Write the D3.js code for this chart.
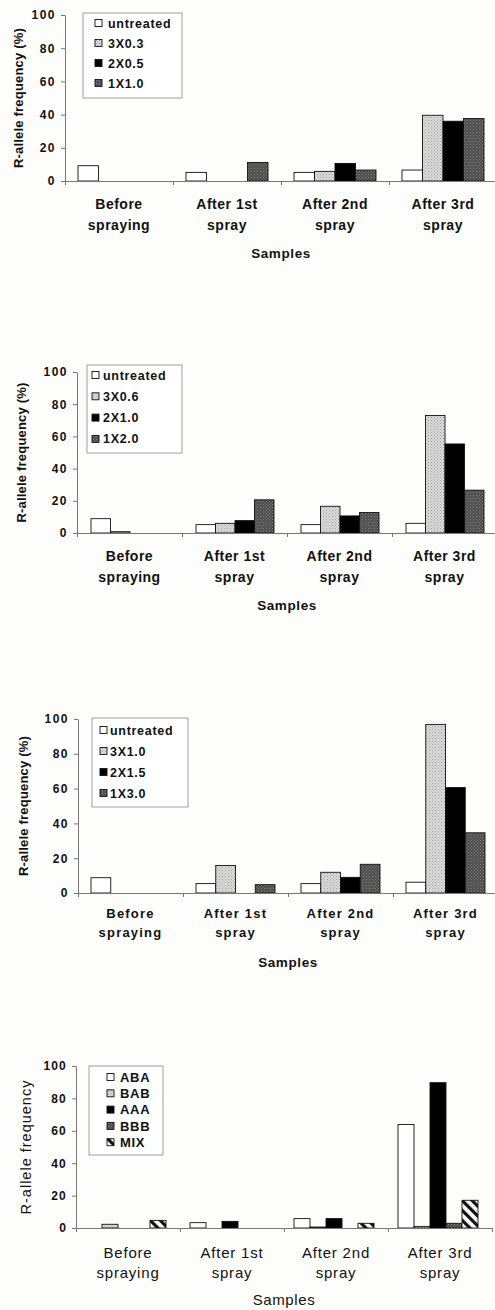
<!DOCTYPE html>
<html>
<head>
<meta charset="utf-8">
<script src="https://cdn.jsdelivr.net/npm/d3@7"></script>
<style>
  body { margin: 0; background: #fdfdfb; }
  svg { display: block; font-family: "Liberation Sans", Arial, sans-serif; }
</style>
</head>
<body>
<script>
// categories shared by all four panels
const categoryLines = [["Before", "spraying"], ["After 1st", "spray"], ["After 2nd", "spray"], ["After 3rd", "spray"]];
const yTicks = [0, 20, 40, 60, 80, 100];

// panel 1
const seriesA = ["untreated", "3X0.3", "2X0.5", "1X1.0"];
const valuesA = [[9.2, 0, 0, 0], [5.2, 0, 0, 11.2], [5.2, 5.8, 10.6, 6.6], [6.6, 39.6, 36.0, 37.6]];
// panel 2
const seriesB = ["untreated", "3X0.6", "2X1.0", "1X2.0"];
const valuesB = [[8.9, 0.8, 0, 0], [5.2, 6.0, 7.7, 20.6], [5.2, 16.6, 10.6, 12.7], [6.0, 73.0, 55.3, 26.6]];
// panel 3
const seriesC = ["untreated", "3X1.0", "2X1.5", "1X3.0"];
const valuesC = [[8.8, 0, 0, 0], [5.4, 15.8, 0, 4.8], [5.4, 11.9, 9.0, 16.5], [6.2, 96.9, 60.6, 34.6]];
// panel 4
const seriesD = ["ABA", "BAB", "AAA", "BBB", "MIX"];
const valuesD = [[0, 2.3, 0, 0, 4.7], [3.3, 0, 4.1, 0, 0], [5.8, 0.6, 5.8, 0, 2.9], [63.9, 1.0, 89.7, 2.9, 17.1]];

const svg = d3.select("body").append("svg").attr("width", 495).attr("height", 1310);

// fill patterns (stipple greys and the diagonal hatch)
const defs = svg.append("defs");
const stipple = (id, base, dot) => {
    const p = defs.append("pattern").attr("id", id).attr("width", 3).attr("height", 3)
        .attr("patternUnits", "userSpaceOnUse");
    p.append("rect").attr("width", 3).attr("height", 3).attr("fill", base);
    p.append("rect").attr("x", 0).attr("y", 0).attr("width", 1).attr("height", 1).attr("fill", dot);
    p.append("rect").attr("x", 1.5).attr("y", 1.5).attr("width", 1).attr("height", 1).attr("fill", dot);
};
stipple("light", "#dedede", "#9a9a9a");
stipple("dark", "#4a4a4a", "#8a8a8a");
const hatch = defs.append("pattern").attr("id", "hatch").attr("width", 7).attr("height", 7)
    .attr("patternUnits", "userSpaceOnUse").attr("patternTransform", "rotate(-45)");
hatch.append("rect").attr("width", 7).attr("height", 7).attr("fill", "#fff");
hatch.append("rect").attr("width", 3.2).attr("height", 7).attr("fill", "#111");

const fills4 = ["#fff", "url(#light)", "#000", "url(#dark)"];
const fills5 = ["#fff", "url(#light)", "#000", "url(#dark)", "url(#hatch)"];

// F1: draw one panel
const drawChart = (cfg, seriesNames, rows, fills) => {
    const g = svg.append("g");

    const x = d3.scaleBand().domain(d3.range(categoryLines.length)).range([cfg.x0, cfg.x1]);
    const xTick = d3.scaleLinear().domain([0, categoryLines.length]).range([cfg.x0, cfg.x1]);
    const xs = d3.scaleBand().domain(seriesNames).range([cfg.padL, x.bandwidth() - cfg.padR]);
    const y = d3.scaleLinear().domain([0, 100]).range([cfg.y0, cfg.y100]);

    // bars
    const groups = g.selectAll(".grp").data(rows).enter().append("g")
        .attr("transform", (d, i) => `translate(${x(i)},0)`);
    groups.selectAll("rect")
        .data(d => d.map((v, j) => ({ v: v, j: j })).filter(e => e.v > 0))
        .enter().append("rect")
        .attr("x", e => xs(seriesNames[e.j]))
        .attr("y", e => y(e.v))
        .attr("width", xs.bandwidth())
        .attr("height", e => cfg.y0 - y(e.v))
        .attr("fill", e => fills[e.j])
        .attr("stroke", "#111")
        .attr("stroke-width", 0.9);

    // y axis
    const yAxis = g.append("g").attr("transform", `translate(${cfg.x0},0)`)
        .call(d3.axisLeft(y).tickValues(yTicks).tickSize(4).tickSizeOuter(0).tickPadding(5));
    yAxis.selectAll("path, line").attr("stroke", "#777");
    yAxis.selectAll("text").attr("fill", "#111").style("font-size", "12px").style("font-weight", "bold")
        .style("letter-spacing", cfg.tickSpacing + "px");

    // x axis with ticks at category boundaries
    const xAxis = g.append("g").attr("transform", `translate(0,${cfg.y0})`)
        .call(d3.axisBottom(xTick).ticks(4).tickFormat("").tickSize(4).tickSizeOuter(0));
    xAxis.selectAll("path, line").attr("stroke", "#777");

    // category labels
    const catText = g.selectAll(".cat").data(categoryLines).enter().append("text")
        .attr("x", (d, i) => x(i) + x.bandwidth() / 2)
        .attr("text-anchor", "middle")
        .attr("fill", "#111")
        .style("font-size", cfg.catSize + "px")
        .style("font-weight", cfg.catWeight)
        .style("letter-spacing", cfg.catSpacing + "px");
    catText.selectAll("tspan").data(d => d).enter().append("tspan")
        .attr("x", function() { return d3.select(this.parentNode).attr("x"); })
        .attr("y", (d, k) => cfg.y0 + (k === 0 ? cfg.cat1 : cfg.cat2) + 5)
        .text(d => d);

    // axis titles
    g.append("text")
        .attr("x", (cfg.x0 + cfg.x1) / 2).attr("y", cfg.y0 + cfg.samplesY + 5)
        .attr("text-anchor", "middle").attr("fill", "#111")
        .style("font-size", cfg.samplesSize + "px").style("font-weight", cfg.catWeight)
        .style("letter-spacing", "0.6px")
        .text("Samples");
    g.append("text")
        .attr("transform", `translate(${cfg.ylabX},${(cfg.y0 + cfg.y100) / 2}) rotate(-90)`)
        .attr("text-anchor", "middle").attr("dy", "0.35em").attr("fill", "#111")
        .style("font-size", cfg.ylabSize + "px").style("font-weight", cfg.ylabWeight)
        .style("letter-spacing", cfg.ylabSpacing + "px")
        .text(cfg.ylab);

    // legend
    const lb = cfg.legend;
    const leg = g.append("g");
    leg.append("rect").attr("x", lb.x).attr("y", lb.y).attr("width", lb.w).attr("height", lb.h)
        .attr("fill", "#fff").attr("stroke", "#888").attr("stroke-width", 0.8);
    const items = leg.selectAll(".item").data(seriesNames).enter().append("g")
        .attr("transform", (d, i) => `translate(0,${lb.first + i * lb.step})`);
    items.append("rect").attr("x", lb.sx).attr("y", -3.5).attr("width", 7).attr("height", 7)
        .attr("fill", (d, i) => fills[i]).attr("stroke", "#111").attr("stroke-width", 0.9);
    items.append("text").attr("x", lb.tx).attr("dy", "0.36em").attr("fill", "#111")
        .style("font-size", lb.size + "px").style("font-weight", "bold")
        .style("letter-spacing", "0.7px")
        .text(d => d);
};

const boldLook = { catSize: 14, catWeight: "bold", catSpacing: 0.5, samplesSize: 13.5,
    ylab: "R-allele frequency (%)", ylabSize: 13, ylabWeight: "bold", ylabSpacing: 0.2, tickSpacing: 1.5 };

drawChart(Object.assign({}, boldLook, {
    x0: 65, x1: 497, y0: 181, y100: 15, padL: 13, padR: 13,
    cat1: 23, cat2: 44, samplesY: 72, ylabX: 18,
    legend: { x: 83, y: 13, w: 99, h: 85, sx: 95, tx: 108, first: 23, step: 20, size: 12.5 }
}), seriesA, valuesA, fills4);

drawChart(Object.assign({}, boldLook, {
    x0: 77, x1: 497, y0: 533, y100: 372, padL: 14, padR: 13,
    cat1: 23, cat2: 44, samplesY: 72, ylabX: 21,
    legend: { x: 87, y: 365, w: 95, h: 88, sx: 92, tx: 103, first: 375, step: 21.3, size: 12.5 }
}), seriesB, valuesB, fills4);

drawChart(Object.assign({}, boldLook, {
    x0: 78, x1: 498, y0: 893, y100: 719, padL: 13, padR: 13, catSize: 13, catSpacing: 1.2,
    cat1: 20, cat2: 39, samplesY: 69, ylabX: 23,
    legend: { x: 92, y: 718, w: 96, h: 89, sx: 100, tx: 110, first: 730, step: 21, size: 12.5 }
}), seriesC, valuesC, fills4);

drawChart({
    x0: 76, x1: 492, y0: 1228, y100: 1066, padL: 10, padR: 14,
    catSize: 15, catWeight: "normal", catSpacing: 0.8, samplesSize: 15,
    ylab: "R-allele frequency", ylabSize: 14.5, ylabWeight: "normal", ylabSpacing: 1, tickSpacing: 1.2,
    cat1: 25, cat2: 45, samplesY: 72, ylabX: 26,
    legend: { x: 89, y: 1066, w: 74, h: 89, sx: 107, tx: 120, first: 1077, step: 16.3, size: 13 }
}, seriesD, valuesD, fills5);
</script>
</body>
</html>
